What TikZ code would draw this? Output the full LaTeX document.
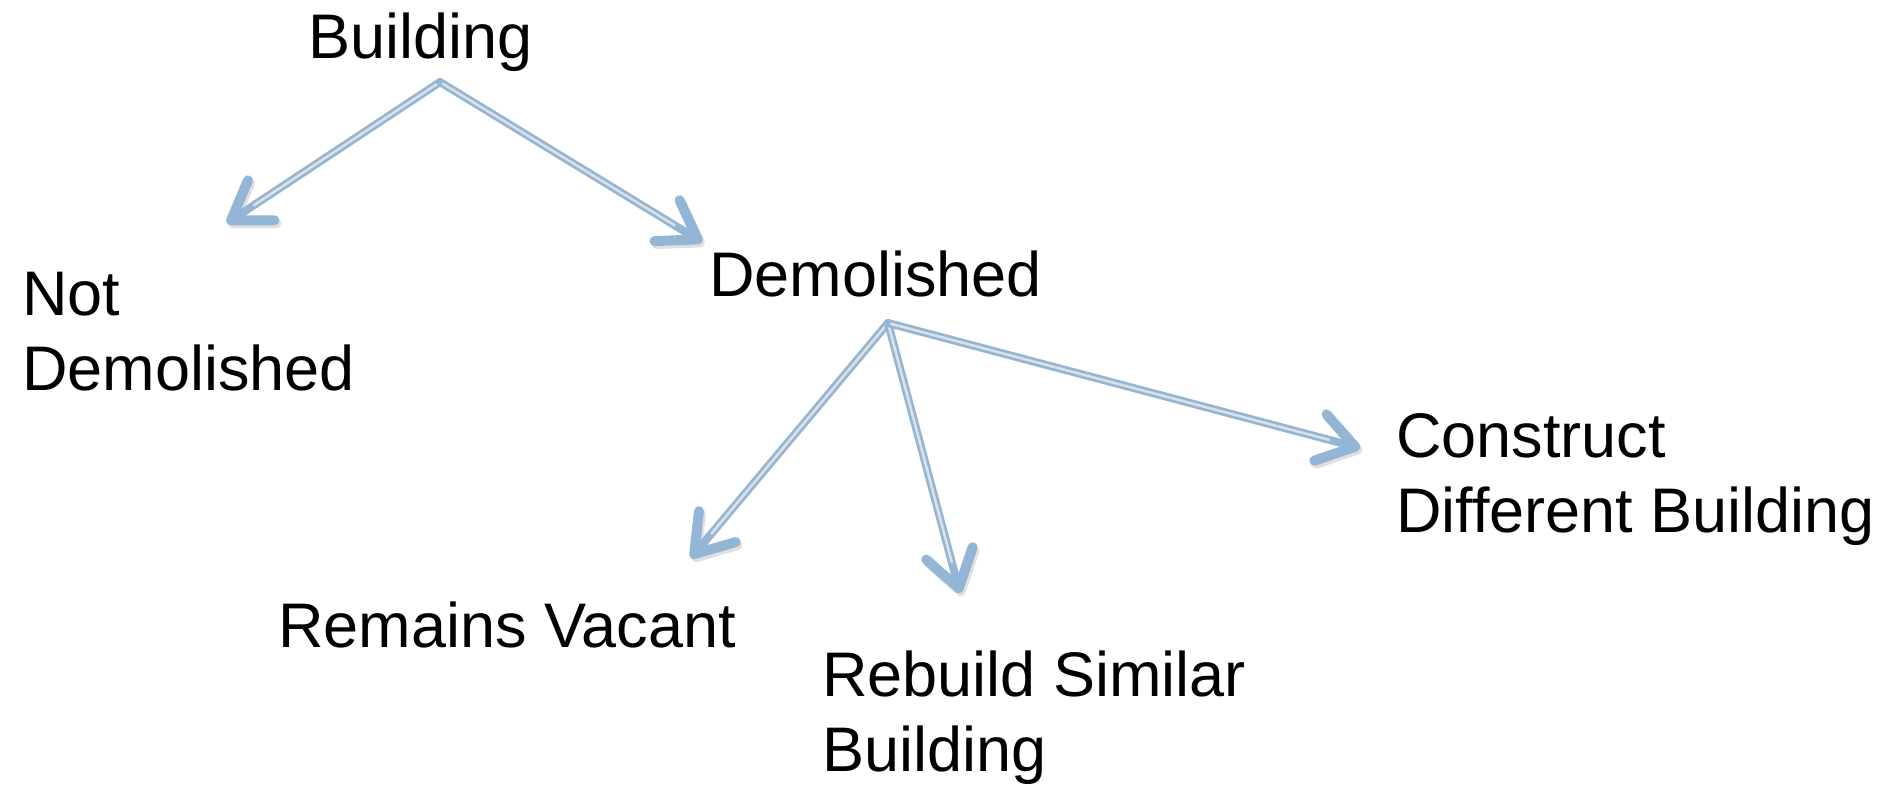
\documentclass[tikz,border=0pt]{standalone}
\usepackage{fontspec}
\setmainfont{Liberation Sans}
\usetikzlibrary{arrows.meta}
\definecolor{arrowblue}{RGB}{148,182,214}
\definecolor{arrowcore}{RGB}{224,224,224}
\tikzset{
	txt/.style={anchor=base west, inner sep=0pt, align=left,
			font=\fontsize{63}{75}\selectfont},
	link/.style={draw=arrowblue, line width=8pt, line cap=round,
			-{Straight Barb[length=36pt, width=48pt, line width=10pt, round]},
			preaction={draw=black!40, opacity=0.3,
					transform canvas={shift={(2pt,-3pt)}}},
			postaction={draw=arrowcore, line width=2.5pt, -, shorten >=32pt, shorten <=3pt}}
}
\begin{document}
\begin{tikzpicture}[x=1pt,y=-1pt]
	\useasboundingbox (0,0) rectangle (1895,785);
	\node[txt] (building) at (308,58) {Building};
	\node[txt] (notdem) at (22,390) {Not\\Demolished};
	\node[txt] (demolished) at (709,296) {Demolished};
	\node[txt] (construct) at (1396,532) {Construct\\Different Building};
	\node[txt] (vacant) at (278,647) {Remains Vacant};
	\node[txt] (rebuild) at (822,771) {Rebuild Similar\\Building};
	\coordinate (bsplit) at (440,82);
	\coordinate (ndtip) at (227,223);
	\coordinate (dtip) at (702,242);
	\coordinate (dsplit) at (888,323);
	\coordinate (vtip) at (691,558);
	\coordinate (rtip) at (960,593);
	\coordinate (ctip) at (1360,448);
	\draw[link] (bsplit) -- (ndtip);
	\draw[link] (bsplit) -- (dtip);
	\draw[link] (dsplit) -- (vtip);
	\draw[link] (dsplit) -- (rtip);
	\draw[link] (dsplit) -- (ctip);
\end{tikzpicture}
\end{document}
